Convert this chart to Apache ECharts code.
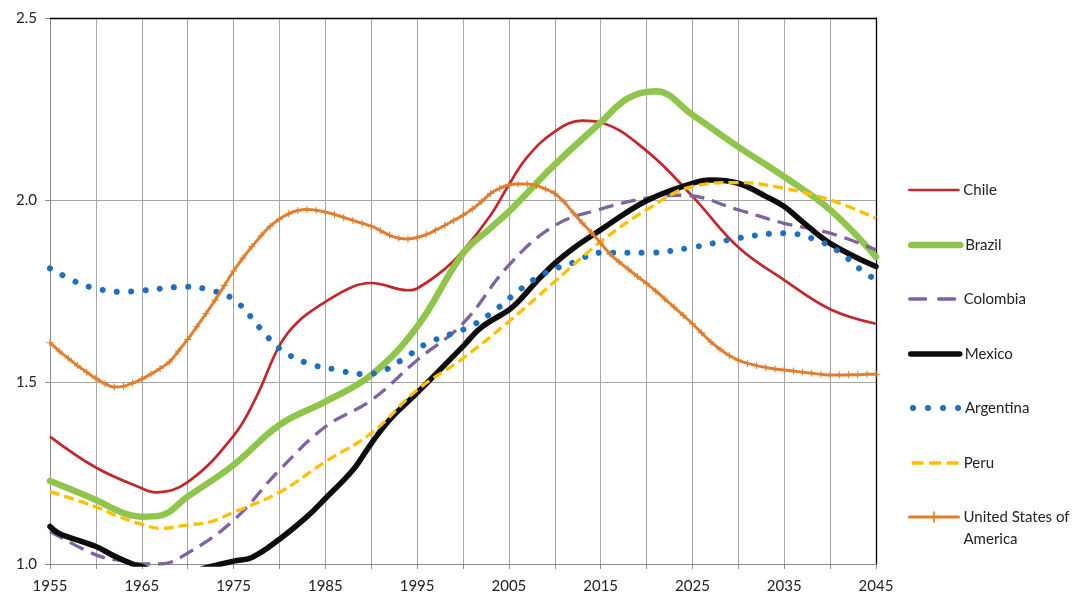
<!DOCTYPE html>
<html><head><meta charset="utf-8">
<script src="https://cdn.jsdelivr.net/npm/echarts@6/dist/echarts.min.js"></script>
<style>html,body{margin:0;padding:0;background:#fff}#c{width:1090px;height:597px}</style>
</head><body><div id="c"></div>
<script>
// ---- data ----
const chileYears  = [1955,1960,1965,1966.5,1970,1975,1977.5,1980,1982,1985,1988,1990,1994,1995,1998,2000,2003,2005,2007,2010,2013,2015,2020,2025,2030,2035,2040,2045];
const chileValues = [1.35,1.265,1.208,1.197,1.225,1.352,1.46,1.60,1.665,1.72,1.762,1.772,1.752,1.757,1.81,1.86,1.958,2.042,2.118,2.188,2.218,2.213,2.135,2.01,1.87,1.78,1.70,1.66];

const brazilYears  = [1955,1960,1963,1965,1967,1970,1975,1980,1985,1990,1995,2000,2003,2005,2010,2015,2018,2021,2025,2030,2035,2040,2045];
const brazilValues = [1.228,1.176,1.14,1.13,1.133,1.185,1.272,1.382,1.446,1.519,1.652,1.853,1.923,1.968,2.097,2.213,2.28,2.299,2.234,2.146,2.064,1.973,1.844];

const colombiaYears  = [1955,1960,1963,1965,1967,1970,1975,1980,1985,1990,1995,2000,2005,2010,2015,2020,2024,2030,2035,2040,2045];
const colombiaValues = [1.09,1.025,1.008,1.0,1.0,1.03,1.12,1.258,1.377,1.45,1.56,1.661,1.821,1.93,1.975,2.005,2.013,1.973,1.936,1.909,1.863];

const mexicoYears  = [1955,1956,1960,1962,1964,1965,1967,1970,1972,1975,1977,1980,1983,1985,1988,1990,1992,1995,2000,2002,2005,2006,2008,2010,2012,2015,2020,2025,2027,2030,2033,2035,2037,2040,2045];
const mexicoValues = [1.103,1.084,1.048,1.022,1.0,0.993,0.975,0.975,0.99,1.008,1.018,1.068,1.13,1.18,1.258,1.331,1.396,1.47,1.598,1.65,1.698,1.72,1.776,1.826,1.867,1.918,1.998,2.046,2.055,2.046,2.01,1.982,1.94,1.881,1.817];

const argentinaYears  = [1955,1958,1960,1962.5,1965,1970,1972,1975,1978,1980,1983,1986,1989,1991,1994,1996,1999,2001,2004,2006,2009,2012,2015,2020,2025,2030,2035,2038,2041,2043,2045];
const argentinaValues = [1.812,1.773,1.757,1.748,1.751,1.762,1.755,1.727,1.645,1.592,1.552,1.535,1.522,1.528,1.572,1.605,1.635,1.655,1.707,1.75,1.80,1.828,1.855,1.855,1.87,1.895,1.909,1.895,1.858,1.815,1.78];

const peruYears  = [1955,1960,1962.5,1965,1967,1970,1972.5,1975,1980,1985,1990,1995,2000,2005,2010,2015,2020,2025,2030,2035,2040,2045];
const peruValues = [1.199,1.157,1.13,1.109,1.098,1.107,1.116,1.142,1.197,1.281,1.359,1.478,1.565,1.666,1.776,1.885,1.973,2.037,2.048,2.032,2.0,1.95];

const usaFirstYear = 1955;
const usaValues = [
 1.608,1.585,1.565,1.545,1.527,1.51,1.495,1.486,1.488,1.497,
 1.508,1.522,1.537,1.555,1.585,1.617,1.652,1.688,1.725,1.765,
 1.805,1.84,1.872,1.902,1.928,1.948,1.962,1.971,1.974,1.972,
 1.967,1.96,1.952,1.944,1.936,1.928,1.916,1.903,1.895,1.893,
 1.897,1.905,1.917,1.93,1.944,1.958,1.975,1.995,2.018,2.032,
 2.041,2.044,2.044,2.04,2.03,2.018,1.995,1.965,1.937,1.91,
 1.882,1.852,1.83,1.81,1.79,1.771,1.75,1.728,1.706,1.683,
 1.66,1.635,1.61,1.59,1.573,1.56,1.551,1.545,1.54,1.536,
 1.533,1.53,1.527,1.524,1.521,1.519,1.519,1.52,1.52,1.521,1.521];

const xMin = 1955, xMax = 2045, xStep = 5, xLabelStep = 10;
const yMin = 1.0, yMax = 2.5, yStep = 0.5;
const seriesNames = ['Chile','Brazil','Colombia','Mexico','Argentina','Peru','United States of America'];

// ---- build ----
const zip = (xs, ys) => xs.map((x, i) => [x, ys[i]]);
const usaData = usaValues.map((v, i) => [usaFirstYear + i, v]);
const FONT = 'Lato';
const GRID_C = '#a6a6a6';
const plusPath = 'path://M8.5,0h3v20h-3z M0,8.5h20v3h-20z';

// legend item looks (icon line styles), one legend per entry for exact placement
const legendLook = {
  'Chile':     { itemStyle: { opacity: 0 }, lineStyle: { type: 'solid', cap: 'round' } },
  'Brazil':    { itemStyle: { opacity: 0 }, lineStyle: { type: 'solid', cap: 'round' } },
  'Colombia':  { itemStyle: { opacity: 0 }, lineStyle: { type: [16, 13], cap: 'round' } },
  'Mexico':    { itemStyle: { opacity: 0 }, lineStyle: { type: 'solid', cap: 'round' } },
  'Argentina': { itemStyle: { opacity: 0 }, lineStyle: { type: [0.01, 15], cap: 'round', dashOffset: -2 } },
  'Peru':      { itemStyle: { opacity: 0 }, lineStyle: { type: [12, 5.5], cap: 'butt' } },
  'United States of America': { lineStyle: { type: 'solid', cap: 'round' }, textStyle: { lineHeight: 22 } }
};
const legendFirstCenter = 190, legendStep = 54.5;
const legends = seriesNames.map((n, i) => {
  const center = legendFirstCenter + i * legendStep;
  const multi = n === 'United States of America';
  return {
    orient: 'vertical', left: 908, top: Math.round(center - (multi ? 33 : 9)), padding: 0,
    itemWidth: 49, itemHeight: 14,
    textStyle: { fontFamily: FONT, fontSize: 15, color: '#222', lineHeight: 18 },
    // an empty first line keeps "United States of" level with the icon, "America" below
    formatter: nm => (nm === 'United States of America' ? '\nUnited States of\nAmerica' : nm),
    lineStyle: { width: 'inherit' },
    selectedMode: false,
    data: [Object.assign({ name: n }, legendLook[n])]
  };
});

const chart = echarts.init(document.getElementById('c'));
chart.setOption({
  animation: false,
  backgroundColor: '#fff',
  grid: { left: 50, right: 214, top: 18, bottom: 33, containLabel: false },
  xAxis: [{
    type: 'value', min: xMin, max: xMax, interval: xStep,
    axisLine: { show: true, onZero: false, lineStyle: { color: '#8c8c8c', width: 1 } },
    axisTick: { show: true, length: 5, lineStyle: { color: '#8c8c8c' } },
    axisLabel: { margin: 15, fontFamily: FONT, fontSize: 15, color: '#222',
      formatter: v => ((v - xMin) % xLabelStep === 0 ? String(v) : '') },
    splitLine: { show: true, lineStyle: { color: GRID_C, width: 1 } }
  }, {
    type: 'value', min: xMin, max: xMax, position: 'top',
    axisLine: { show: true, onZero: false, lineStyle: { color: '#000', width: 1.3 } },
    axisTick: { show: false }, axisLabel: { show: false }, splitLine: { show: false }
  }],
  yAxis: [{
    type: 'value', min: yMin, max: yMax, interval: yStep,
    axisLine: { show: true, onZero: false, lineStyle: { color: '#8c8c8c', width: 1 } },
    axisTick: { show: true, length: 5, lineStyle: { color: '#8c8c8c' } },
    axisLabel: { margin: 13, fontFamily: FONT, fontSize: 15, color: '#222',
      formatter: v => v.toFixed(1) },
    splitLine: { show: true, lineStyle: { color: GRID_C, width: 1 } }
  }, {
    type: 'value', min: yMin, max: yMax, position: 'right',
    axisLine: { show: true, onZero: false, lineStyle: { color: '#000', width: 1.3 } },
    axisTick: { show: false }, axisLabel: { show: false }, splitLine: { show: false }
  }],
  legend: legends,
  series: [
    { name: 'Chile', type: 'line', data: zip(chileYears, chileValues), smooth: 0.4, symbol: 'none',
      lineStyle: { color: '#c1272d', width: 2.7 }, itemStyle: { color: '#c1272d' } },
    { name: 'Brazil', type: 'line', data: zip(brazilYears, brazilValues), smooth: 0.4, symbol: 'none',
      lineStyle: { color: '#8fc54b', width: 6.5, cap: 'round' }, itemStyle: { color: '#8fc54b' } },
    { name: 'Colombia', type: 'line', data: zip(colombiaYears, colombiaValues), smooth: 0.4, symbol: 'none',
      lineStyle: { color: '#7f62a0', width: 3.3, type: [15, 8] }, itemStyle: { color: '#7f62a0' } },
    { name: 'Mexico', type: 'line', data: zip(mexicoYears, mexicoValues), smooth: 0.4, symbol: 'none',
      lineStyle: { color: '#0d0d0d', width: 5.5, cap: 'round' }, itemStyle: { color: '#0d0d0d' } },
    { name: 'Argentina', type: 'line', data: zip(argentinaYears, argentinaValues), smooth: 0.4, symbol: 'none',
      lineStyle: { color: '#1e70be', width: 6, type: [0.01, 14.3], cap: 'round' }, itemStyle: { color: '#1e70be' } },
    { name: 'Peru', type: 'line', data: zip(peruYears, peruValues), smooth: 0.4, symbol: 'none',
      lineStyle: { color: '#ffc000', width: 3.3, type: [10, 5] }, itemStyle: { color: '#ffc000' } },
    { name: 'United States of America', type: 'line', data: usaData, smooth: 0.3,
      symbol: plusPath, symbolSize: 7, showSymbol: true, showAllSymbol: true,
      lineStyle: { color: '#e07f2f', width: 3 }, itemStyle: { color: '#e07f2f' } }
  ]
});
</script></body></html>
